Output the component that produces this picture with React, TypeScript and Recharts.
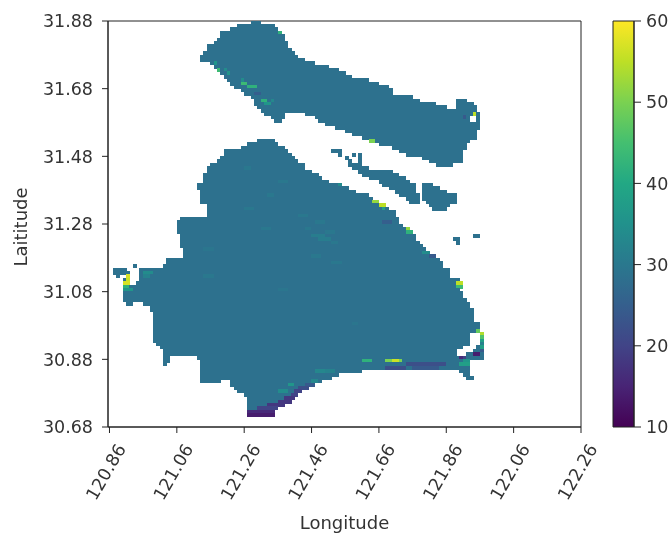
import { Bar, BarChart, ReferenceArea, Scatter, ScatterChart, XAxis, YAxis } from "recharts";

// Grid is 0.01 degree: col 0 = 120.86E, row 0 = 30.68N. Spans are [row, colStart, colEnd).
type Span = [number, number, number];
type Patch = [number, number, number, number];

const lonTicks = [120.86, 121.06, 121.26, 121.46, 121.66, 121.86, 122.06, 122.26];
const latTicks = [30.68, 30.88, 31.08, 31.28, 31.48, 31.68, 31.88];
const colorTicks = [10, 20, 30, 40, 50, 60];
const viridisStops = ["#440154", "#482475", "#414487", "#355f8d", "#2a788e", "#21918c", "#22a884", "#44bf70", "#7ad151", "#bddf26", "#fde725"];
const baseValue = 28.5;

const northIsland: Span[] = [
  [119,42,45],[118,38,49],[117,36,50],[116,33,51],[115,33,52],[114,32,52],[113,31,53],[112,29,53],[111,29,54],[110,28,55],
  [109,27,56],[108,27,58],[107,30,61],[106,31,65],[105,32,68],[104,33,70],[103,34,72],[102,35,77],[101,36,80],[100,37,83],
  [99,39,84],[98,40,84],[97,42,90],[96,43,92],[96,103,106],[95,43,97],[95,103,108],[94,44,100],[94,103,109],[93,45,109],
  [92,46,52],[92,58,110],[91,48,52],[91,61,107],[91,109,110],[90,49,51],[90,62,107],[90,109,110],[89,64,110],[88,67,110],
  [87,70,109],[86,72,109],[85,75,109],[84,77,107],[83,80,106],[82,84,106],[81,86,105],[80,88,105],[79,93,105],[78,95,105],[77,97,102],
];

const middleIslands: Span[] = [
  [81,66,69],[80,68,69],[80,72,73],[80,74,75],[79,70,71],[79,74,75],[78,71,72],[78,74,75],[77,71,75],[76,72,77],
  [75,74,84],[74,75,86],[73,77,88],[72,80,89],[71,81,91],[71,93,96],[70,83,91],[70,93,98],[69,85,91],[69,93,100],
  [68,86,92],[68,93,103],[67,88,92],[67,93,103],[66,89,92],[66,94,103],[65,95,101],[64,96,100],
  [56,108,110],[55,102,104],[54,103,104],
];

const mainland: Span[] = [
  [84,44,49],[83,41,50],[82,39,52],[81,34,53],[80,34,54],[79,33,55],[78,32,56],[77,30,58],[76,29,58],[75,29,60],
  [74,28,62],[73,28,63],[72,28,65],[71,26,69],[70,26,71],[69,27,73],[68,27,77],[67,27,78],[66,27,80],[65,29,82],
  [64,29,83],[63,29,85],[62,29,85],[61,21,86],[60,20,86],[59,20,87],[58,20,89],[57,20,90],[56,21,91],[55,21,91],
  [54,21,92],[53,21,93],[52,22,94],[51,22,95],[50,22,97],[49,17,98],[48,17,99],[47,7,8],[47,16,99],
  [46,1,5],[46,9,101],[45,1,6],[45,9,101],[44,2,3],[44,5,6],[44,9,101],[43,4,6],[43,9,104],[42,4,6],[42,8,105],
  [41,4,105],[40,4,104],[39,4,105],[38,4,105],[37,4,106],[36,5,7],[36,10,107],[35,12,107],[34,12,108],[33,13,108],
  [32,13,108],[31,13,108],[30,13,110],[29,13,110],[28,13,110],[27,13,107],[27,110,111],[26,13,107],[26,110,111],
  [25,13,107],[25,110,111],[24,14,107],[24,110,111],[23,15,105],[23,109,111],[22,16,103],[22,108,111],[21,16,103],[21,106,111],
  [20,16,18],[20,26,111],[19,16,18],[19,27,107],[18,16,17],[18,27,107],[17,27,107],[16,27,75],[16,104,107],[15,27,68],[15,105,107],
  [14,27,66],[14,106,108],[13,27,33],[13,36,63],[12,36,61],[11,37,59],[10,38,57],[9,40,56],[8,41,55],[7,41,54],[6,41,52],[5,41,50],[4,41,49],[3,41,49],
];

// [row, colStart, colEnd, value]: cells that stand out from the base value
const patches: Patch[] = [
  [62,56,59,30],[60,61,64,30],[58,58,60,30],[56,60,64,31],[55,62,66,31],[57,64,67,30],[54,66,68,30],[50,60,63,30],[48,66,69,30],[64,40,43,30],
  [58,45,48,30],[68,47,49,30],[40,50,53,29.5],[72,50,53,30],[76,40,42,30],[44,28,31,30],[30,72,74,29.5],[52,28,31,29.5],
  [107,31,32,36],[105,31,33,44],[105,34,35,34],[104,35,36,36],[101,39,41,44],[100,41,44,42],[102,39,40,34],[98,43,45,25],
  [96,45,47,42],[95,46,48,36],[96,48,49,33],[116,50,52,42],[84,77,79,50],[91,105,106,24],[90,108,109,14],[92,108,109,55],[91,107,108,18],
  [70,71,74,50],[71,68,70,34],[66,78,80,52],[65,80,82,55],[64,81,82,38],[58,88,89,52],[57,88,90,42],[59,87,88,34],
  [51,93,95,34],[60,81,84,25],[50,95,97,24],[42,103,105,55],[41,103,105,44],[42,4,6,57],[43,5,6,56],[44,5,6,57],[41,4,6,42],[40,4,7,36],
  [45,10,13,34],[44,10,12,32],
  [3,41,49,14],[4,41,49,16],[5,44,50,20],[6,47,52,18],[7,50,54,18],[8,52,55,18],[9,54,56,20],[10,55,57,20],[11,56,59,22],[12,58,61,24],
  [10,50,53,34],[12,53,55,36],[13,60,62,33],[16,61,64,33],[16,64,67,32],
  [19,75,78,42],[19,82,87,50],[19,84,86,56],[18,82,88,28],[17,82,88,22],[18,88,100,22],[17,90,98,24],[20,104,105,16],[20,105,106,20],
  [21,108,110,14],[22,110,111,24],[23,110,111,38],[24,110,111,32],[25,110,111,38],[26,110,111,46],[27,110,111,54],[28,109,110,48],
  [18,104,107,38],[19,105,107,36],
];

const mixHex = (a: string, b: string, t: number) => {
  const ch = (s: string, i: number) => parseInt(s.slice(1 + i * 2, 3 + i * 2), 16);
  const out = [0, 1, 2].map((i) => Math.round(ch(a, i) + (ch(b, i) - ch(a, i)) * t));
  return `rgb(${out.join(",")})`;
};

const colorFor = (value: number) => {
  const pos = Math.min(9.999, Math.max(0, (value - 10) / 5));
  const i = Math.floor(pos);
  return mixHex(viridisStops[i], viridisStops[i + 1], pos - i);
};

const patchValue = new Map<string, number>();
patches.forEach(([row, from, to, value]) => {
  for (let col = from; col < to; col++) patchValue.set(`${row}:${col}`, value);
});

const cells: { lon: number; lat: number; value: number }[] = [];
[...northIsland, ...middleIslands, ...mainland].forEach(([row, from, to]) => {
  for (let col = from; col < to; col++) {
    cells.push({
      lon: 120.86 + (col + 0.5) * 0.01,
      lat: 30.68 + (row + 0.5) * 0.01,
      value: patchValue.get(`${row}:${col}`) ?? baseValue,
    });
  }
});

const textColor = "#333";
const axisColor = "#222";
const font = "'DejaVu Sans', sans-serif";
const fontSize = 17.5;

function CellMark({ cx, cy, payload }: any) {
  return <rect x={cx - 2} y={cy - 2} width={4} height={4} fill={colorFor(payload.value)} shapeRendering="crispEdges" />;
}

function LonTick({ x, y, payload }: any) {
  const tx = x - 3.5;
  const ty = y + 37;
  return (
    <text x={tx} y={ty} transform={`rotate(-60 ${tx} ${ty})`} textAnchor="middle" dominantBaseline="central" fontSize={fontSize} fontFamily={font} fill={textColor}>
      {payload.value.toFixed(2)}
    </text>
  );
}

function LatLabel() {
  return (
    <text transform="translate(27 227) rotate(-90)" textAnchor="middle" fontSize={18} fontFamily={font} fill={textColor}>
      Laititude
    </text>
  );
}

const xMin = 120.8556;

export default function App() {
  return (
    <div style={{ position: "absolute", left: 0, top: 0, width: 669, height: 534, background: "#fff", filter: "blur(0.5px)" }}>
      <div style={{ position: "absolute", left: 0, top: 0 }}>
        <ScatterChart width={669} height={534} margin={{ top: 21, right: 88, bottom: 0, left: 0 }}>
          <XAxis
            type="number"
            dataKey="lon"
            domain={[xMin, 122.26]}
            ticks={lonTicks}
            tick={<LonTick />}
            interval={0}
            height={107}
            tickSize={6}
            stroke={axisColor}
            label={{ value: "Longitude", position: "insideBottom", offset: 5, fontSize: 18, fontFamily: font, fill: textColor }}
          />
          <YAxis
            type="number"
            dataKey="lat"
            domain={[30.68, 31.88]}
            ticks={latTicks}
            tickFormatter={(v: number) => v.toFixed(2)}
            tick={{ fontSize, fontFamily: font, fill: textColor }}
            interval={0}
            width={108}
            tickSize={6}
            tickMargin={9}
            stroke={axisColor}
            label={<LatLabel />}
          />
          <Scatter data={cells} isAnimationActive={false} shape={<CellMark />} />
          <ReferenceArea x1={xMin} x2={122.26} y1={30.68} y2={31.88} fill="none" stroke={axisColor} strokeWidth={1} />
        </ScatterChart>
      </div>
      <div style={{ position: "absolute", left: 600, top: 0 }}>
        <BarChart width={69} height={534} data={[{ range: [10, 60] }]} margin={{ top: 21, right: 0, bottom: 107, left: 13 }} barCategoryGap={0}>
          <defs>
            <linearGradient id="viridisBar" x1="0" y1="1" x2="0" y2="0">
              {viridisStops.map((c, i) => (
                <stop key={c} offset={`${i * 10}%`} stopColor={c} />
              ))}
            </linearGradient>
          </defs>
          <XAxis hide />
          <YAxis
            orientation="right"
            type="number"
            domain={[10, 60]}
            ticks={colorTicks}
            interval={0}
            width={35}
            tickSize={7}
            tickMargin={5}
            stroke={axisColor}
            tick={{ fontSize, fontFamily: font, fill: textColor }}
          />
          <Bar dataKey="range" fill="url(#viridisBar)" stroke={axisColor} strokeWidth={1} isAnimationActive={false} />
        </BarChart>
      </div>
    </div>
  );
}
